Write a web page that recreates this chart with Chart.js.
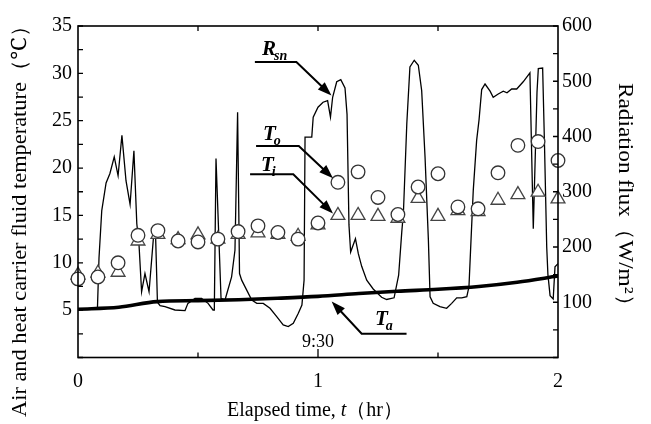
<!DOCTYPE html>
<html><head><meta charset="utf-8">
<script src="https://cdn.jsdelivr.net/npm/chart.js@4.4.1/dist/chart.umd.min.js"></script>
<style>html,body{margin:0;padding:0;background:#fff;}#wrap{width:651px;height:424px;}</style>
</head><body>
<div id="wrap"><canvas id="c" width="651" height="424"></canvas></div>
<script>
// ---- data (elapsed time in hours) ----
const markerTimes = [0,0.083,0.167,0.25,0.333,0.417,0.5,0.583,0.667,0.75,0.833,0.917,1,1.083,1.167,1.25,1.333,1.417,1.5,1.583,1.667,1.75,1.833,1.917,2];
const outletTemp  = [8.3,8.5,10.0,12.9,13.4,12.3,12.2,12.5,13.3,13.9,13.2,12.5,14.2,18.5,19.6,16.9,15.1,18.0,19.4,15.9,15.7,19.5,22.4,22.8,20.8];
const inletTemp   = [8.7,8.9,9.0,12.3,13.0,12.45,12.95,12.5,13.0,13.15,13.0,12.8,14.0,15.0,15.0,14.9,14.7,16.8,14.9,15.5,15.4,16.6,17.2,17.45,16.75];

const ambientTime = [0,0.17,0.33,0.5,0.67,0.83,1.0,1.17,1.33,1.5,1.67,1.83,2.0];
const ambientTemp = [5.1,5.3,5.9,6.0,6.1,6.25,6.45,6.75,7.0,7.2,7.5,7.95,8.6];

const rsnTime = [0,0.081,0.0875,0.099,0.117,0.133,0.151,0.167,0.183,0.2,0.217,0.233,0.245,0.254,0.265,0.279,0.296,0.314,0.323,0.331,0.342,0.3625,0.404,0.446,0.458,0.4875,0.515,0.542,0.5625,0.568,0.575,0.596,0.6125,0.64,0.654,0.665,0.673,0.682,0.703,0.724,0.745,0.772,0.8,0.828,0.855,0.876,0.897,0.918,0.933,0.942,0.946,0.974,0.98,1.0,1.021,1.04,1.052,1.061,1.078,1.095,1.1125,1.121,1.129,1.136,1.156,1.168,1.182,1.203,1.23,1.265,1.286,1.317,1.336,1.349,1.356,1.37,1.383,1.401,1.418,1.432,1.446,1.46,1.467,1.48,1.508,1.536,1.557,1.578,1.599,1.62,1.629,1.6375,1.647,1.661,1.671,1.682,1.696,1.717,1.73,1.751,1.772,1.7875,1.807,1.828,1.855,1.883,1.897,1.9125,1.918,1.936,1.944,1.953,1.958,1.967,1.98,1.9875,2.0];
const rsnFlux = [88,89,180,266,316,333,363,329,402,320,277,374,242,206,119,152,119,215,225,100,94,92,86,85,98,107,107,98,86,86,360,107,104,146,194,444,152,140,122,104,98,98,89,74,59,56,62,80,95,140,399,399,435,453,462,465,435,471,499,503,488,440,240,191,215,188,165,140,124,109,105,108,149,227,263,423,526,538,529,483,363,212,110,98,92,89,98,108,108,110,128,212,303,393,430,485,495,482,471,477,482,479,486,486,499,515,233,480,523,524,380,200,150,112,106,164,170];

const tempTicks = {min:0,max:35,step:2.5,labelStep:5};
const fluxTicks = {min:0,max:600,step:50,labelStep:100};
const timeTicks = {min:0,max:2,step:0.5,labelStep:1};

const serif = '"Liberation Serif","Times New Roman","Noto Serif",serif';

const pts = (xs, ys) => xs.map((v,i)=>({x:v,y:ys[i]}));

function stretchedParts(ctx, parts, len) {
  let total = 0;
  parts.forEach(pp => { ctx.font = pp[1] + serif; total += ctx.measureText(pp[0]).width; });
  const sx = len / total;
  ctx.scale(sx, 1);
  let cx = -total/2;
  ctx.textAlign = 'left'; ctx.textBaseline = 'middle';
  parts.forEach(pp => { ctx.font = pp[1] + serif; ctx.fillText(pp[0], cx, 0); cx += ctx.measureText(pp[0]).width; });
}

const decorations = {
  id:'decorations',
  afterDraw(chart){
    const {ctx, chartArea:a, scales} = chart;
    const x = scales.x, y = scales.y, y1 = scales.y1;
    const X = v => x.getPixelForValue(v), Y = v => y.getPixelForValue(v);
    ctx.save();
    // frame
    ctx.strokeStyle = '#000';
    ctx.lineWidth = 1.6;
    ctx.strokeRect(a.left, a.top, a.right - a.left, a.bottom - a.top);
    // inward tick marks
    ctx.lineWidth = 1.3;
    ctx.beginPath();
    y.ticks.forEach(t => { const p = Y(t.value); ctx.moveTo(a.left, p); ctx.lineTo(a.left + 5, p); });
    y1.ticks.forEach(t => { const p = y1.getPixelForValue(t.value); ctx.moveTo(a.right, p); ctx.lineTo(a.right - 5, p); });
    x.ticks.forEach(t => {
      if (t.value <= timeTicks.min || t.value >= timeTicks.max) return;
      const p = X(t.value);
      ctx.moveTo(p, a.bottom); ctx.lineTo(p, a.bottom - 5);
      ctx.moveTo(p, a.top); ctx.lineTo(p, a.top + 5);
    });
    // 9:30 marker tick
    ctx.moveTo(X(1), Y(0)); ctx.lineTo(X(1), Y(0.9));
    ctx.stroke();

    ctx.fillStyle = '#000';
    ctx.font = '18px ' + serif;
    ctx.textAlign = 'center'; ctx.textBaseline = 'alphabetic';
    ctx.fillText('9:30', X(1), Y(1.1));

    // pointer arrows + labels
    const pointers = [
      {main:'R', sub:'sn', label:[0.767,31.9], path:[[0.737,31.19],[0.91,31.19],[1.056,27.67]]},
      {main:'T', sub:'o',  label:[0.771,22.93], path:[[0.742,22.33],[0.92,22.33],[1.0625,18.92]]},
      {main:'T', sub:'i',  label:[0.7625,19.71], path:[[0.717,19.34],[0.897,19.34],[1.0625,15.2]]},
      {main:'T', sub:'a',  label:[1.2375,3.43], path:[[1.369,2.51],[1.182,2.51],[1.057,5.92]]}
    ];
    pointers.forEach(pt => {
      const p = pt.path.map(q => [X(q[0]), Y(q[1])]);
      const tip = p[p.length-1], prev = p[p.length-2];
      const ang = Math.atan2(tip[1]-prev[1], tip[0]-prev[0]);
      const L = 14, W = 5;
      const bx = tip[0] - L*Math.cos(ang), by = tip[1] - L*Math.sin(ang);
      ctx.lineWidth = 2;
      ctx.beginPath();
      ctx.moveTo(p[0][0], p[0][1]);
      ctx.lineTo(p[1][0], p[1][1]);
      ctx.lineTo(bx + 2*Math.cos(ang), by + 2*Math.sin(ang));
      ctx.stroke();
      ctx.beginPath();
      ctx.moveTo(tip[0], tip[1]);
      ctx.lineTo(bx + W*Math.sin(ang), by - W*Math.cos(ang));
      ctx.lineTo(bx - W*Math.sin(ang), by + W*Math.cos(ang));
      ctx.closePath();
      ctx.fill();
      // label
      const lx = X(pt.label[0]), ly = Y(pt.label[1]);
      ctx.textAlign = 'left'; ctx.textBaseline = 'alphabetic';
      ctx.font = 'bold italic 21px ' + serif;
      ctx.fillText(pt.main, lx, ly);
      const w = ctx.measureText(pt.main).width;
      ctx.font = 'bold italic 14px ' + serif;
      ctx.fillText(pt.sub, lx + w - 2, ly + 5);
    });

    // axis titles (stretched to the reference lengths)
    ctx.save();
    ctx.translate(20, 216); ctx.rotate(-Math.PI/2);
    stretchedParts(ctx, [['Air and heat carrier fluid temperature（℃）', '21px ']], 402);
    ctx.restore();
    ctx.save();
    ctx.translate(625, 200); ctx.rotate(Math.PI/2);
    stretchedParts(ctx, [['Radiation flux（W/m²）', '21px ']], 234);
    ctx.restore();
    ctx.save();
    ctx.translate(315, 411);
    stretchedParts(ctx, [['Elapsed time, ', '20px '], ['t', 'italic 20px '], ['（hr）', '20px ']], 176);
    ctx.restore();
    ctx.restore();
  }
};

const tickFont = {family: serif, size: 20};
const lab = cfg => v => (v > cfg.min && Math.abs(v/cfg.labelStep - Math.round(v/cfg.labelStep)) < 1e-6) ? String(v) : '';
const labX = v => (Math.abs(v - Math.round(v)) < 1e-6) ? String(v) : '';

new Chart(document.getElementById('c'), {
  type: 'line',
  data: {
    datasets: [
      {label:'To', data: pts(markerTimes, outletTemp), yAxisID:'y', showLine:false, clip:false, pointStyle:'circle', pointRadius:6.8, pointBackgroundColor:'#fff', pointBorderColor:'#333', pointBorderWidth:1.3, order:0},
      {label:'Ti', data: pts(markerTimes, inletTemp), yAxisID:'y', showLine:false, clip:false, pointStyle:'triangle', pointRadius:8, pointBackgroundColor:'#fff', pointBorderColor:'#444', pointBorderWidth:1.3, order:1},
      {label:'Ta', data: pts(ambientTime, ambientTemp), yAxisID:'y', borderColor:'#000', borderWidth:3.6, pointRadius:0, cubicInterpolationMode:'monotone', fill:false, order:2},
      {label:'Rsn', data: pts(rsnTime, rsnFlux), yAxisID:'y1', borderColor:'#000', borderWidth:1.3, pointRadius:0, tension:0, fill:false, order:3}
    ]
  },
  options: {
    responsive:false, animation:false, devicePixelRatio:1,
    layout:{padding:{top:26,left:0,right:0,bottom:0}},
    plugins:{legend:{display:false}, tooltip:{enabled:false}},
    scales:{
      x:{type:'linear', position:'bottom', min:timeTicks.min, max:timeTicks.max,
         ticks:{stepSize:timeTicks.step, autoSkip:false, maxRotation:0, padding:12, color:'#000', font:tickFont, callback:labX},
         grid:{display:false, drawTicks:false}, border:{display:false},
         afterFit: s => { s.height = 66.5; }},
      y:{type:'linear', position:'left', min:tempTicks.min, max:tempTicks.max,
         ticks:{stepSize:tempTicks.step, autoSkip:false, padding:6, color:'#000', font:tickFont, callback:lab(tempTicks)},
         grid:{display:false, drawTicks:false}, border:{display:false},
         afterFit: s => { s.width = 78; }},
      y1:{type:'linear', position:'right', min:fluxTicks.min, max:fluxTicks.max,
         ticks:{stepSize:fluxTicks.step, autoSkip:false, padding:4, color:'#000', font:tickFont, callback:lab(fluxTicks)},
         grid:{display:false, drawTicks:false}, border:{display:false},
         afterFit: s => { s.width = 93; }}
    }
  },
  plugins:[decorations]
});
</script>
</body></html>
